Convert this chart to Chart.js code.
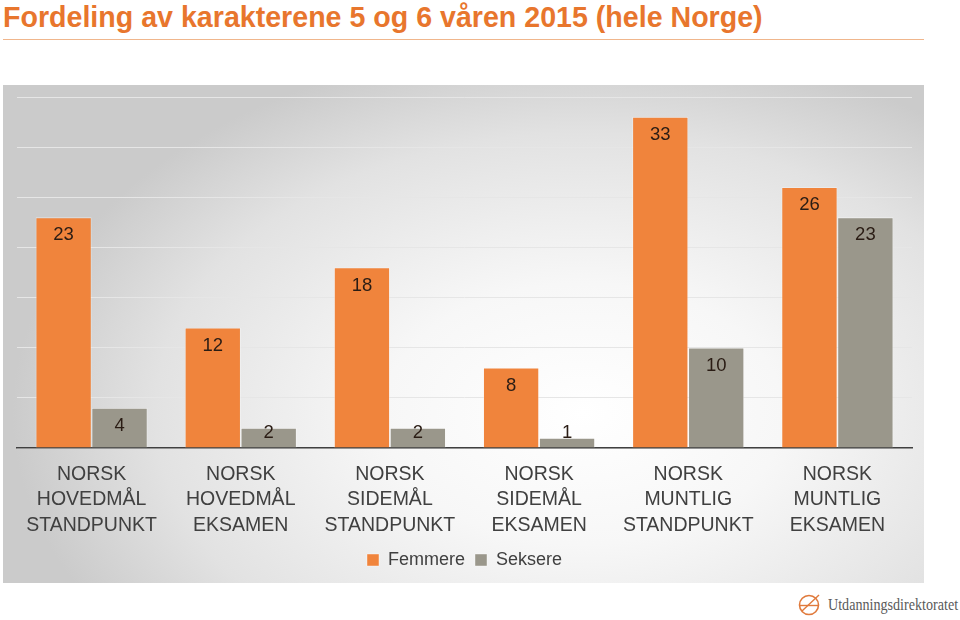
<!DOCTYPE html>
<html lang="no">
<head>
  <meta charset="UTF-8">
  <title>Fordeling av karakterene 5 og 6 våren 2015</title>
  <style>
    body { margin: 0; width: 960px; height: 620px; background: #fff; position: relative; overflow: hidden; font-family: "Liberation Sans", Arial, sans-serif; }
    h1 { position: absolute; left: 3px; top: 0; margin: 0; font-family: "Liberation Sans Narrow", "Liberation Sans", sans-serif; font-weight: bold; font-size: 28.6px; line-height: 34px; color: #E8762D; white-space: nowrap; }
    .rule { position: absolute; left: 3px; top: 39px; width: 921px; height: 1px; background: #F0B68C; }
    #panel { position: absolute; left: 3px; top: 85px; width: 921px; height: 498px;
      background: radial-gradient(ellipse 62% 75% at 63% 66%, #ffffff 0%, #f7f7f7 35%, #e2e2e2 75%, #cbcbcb 100%); }
    .logo { position: absolute; left: 797px; top: 594px; display: flex; align-items: center; }
    .logo span { font-family: "Liberation Serif", serif; font-size: 17px; color: #5a5a5a; margin-left: 7px; display: inline-block; transform: scaleX(0.83); transform-origin: left center; }
  </style>
</head>
<body>
  <h1>Fordeling av karakterene 5 og 6 våren 2015 (hele Norge)</h1>
  <div class="rule"></div>
  <div id="panel"><canvas id="chart"></canvas></div>
  <div class="logo">
    <svg width="24" height="22" viewBox="0 0 24 22">
      <circle cx="12" cy="11" r="9.5" fill="none" stroke="#E07A3C" stroke-width="1.6"/>
      <line x1="2.5" y1="11.5" x2="21.5" y2="11.5" stroke="#E07A3C" stroke-width="1.4"/>
      <line x1="5" y1="17" x2="22" y2="1" stroke="#E07A3C" stroke-width="1.4"/>
    </svg>
    <span>Utdanningsdirektoratet</span>
  </div>

  <script src="https://cdn.jsdelivr.net/npm/chart.js"></script>
  <script>
    const categories = [
      ['NORSK', 'HOVEDMÅL', 'STANDPUNKT'],
      ['NORSK', 'HOVEDMÅL', 'EKSAMEN'],
      ['NORSK', 'SIDEMÅL', 'STANDPUNKT'],
      ['NORSK', 'SIDEMÅL', 'EKSAMEN'],
      ['NORSK', 'MUNTLIG', 'STANDPUNKT'],
      ['NORSK', 'MUNTLIG', 'EKSAMEN']
    ];
    const femmere = [23, 12, 18, 8, 33, 26];
    const seksere = [4, 2, 2, 1, 10, 23];
    const seriesNames = ['Femmere', 'Seksere'];

    // value labels near the top of each bar
    const barLabels = {
      id: 'barLabels',
      afterDatasetsDraw(chart) {
        const ctx = chart.ctx;
        ctx.save();
        ctx.font = '18.5px "Liberation Sans", Arial, sans-serif';
        ctx.fillStyle = '#2a1c14';
        ctx.textAlign = 'center';
        ctx.textBaseline = 'middle';
        chart.data.datasets.forEach((ds, i) => {
          chart.getDatasetMeta(i).data.forEach((el, j) => {
            const y = Math.min(el.y + 18, el.base - 15);
            ctx.fillText(ds.data[j], el.x, y);
          });
        });
        ctx.restore();
      }
    };

    new Chart(document.getElementById('chart'), {
      type: 'bar',
      data: {
        labels: categories,
        datasets: [
          { label: seriesNames[0], data: femmere, backgroundColor: '#F0843C', borderColor: 'rgba(255,255,255,0.5)', borderWidth: 0.8 },
          { label: seriesNames[1], data: seksere, backgroundColor: '#9A978B', borderColor: 'rgba(255,255,255,0.5)', borderWidth: 0.8 }
        ]
      },
      options: {
        responsive: true,
        maintainAspectRatio: false,
        animation: false,
        layout: { padding: { left: 14, right: 12, top: 12, bottom: 4 } },
        datasets: { bar: { barPercentage: 1, categoryPercentage: 0.75 } },
        scales: {
          x: {
            grid: { display: false },
            border: { color: '#404040', width: 1.5 },
            ticks: { color: '#404040', font: { size: 19.5, lineHeight: 1.3, family: '"Liberation Sans", Arial, sans-serif' }, padding: 6, maxRotation: 0, autoSkip: false },
            afterFit(scale) { scale.height = 93; }
          },
          y: {
            min: 0, max: 35,
            ticks: { display: false, stepSize: 5 },
            grid: { color: '#e6e6e6', drawTicks: false },
            border: { display: false }
          }
        },
        plugins: {
          legend: {
            position: 'bottom',
            labels: { boxWidth: 12, boxHeight: 12, color: '#404040', font: { size: 18, family: '"Liberation Sans", Arial, sans-serif' }, padding: 10 }
          },
          tooltip: { enabled: false }
        }
      },
      plugins: [barLabels]
    });
  </script>
</body>
</html>
